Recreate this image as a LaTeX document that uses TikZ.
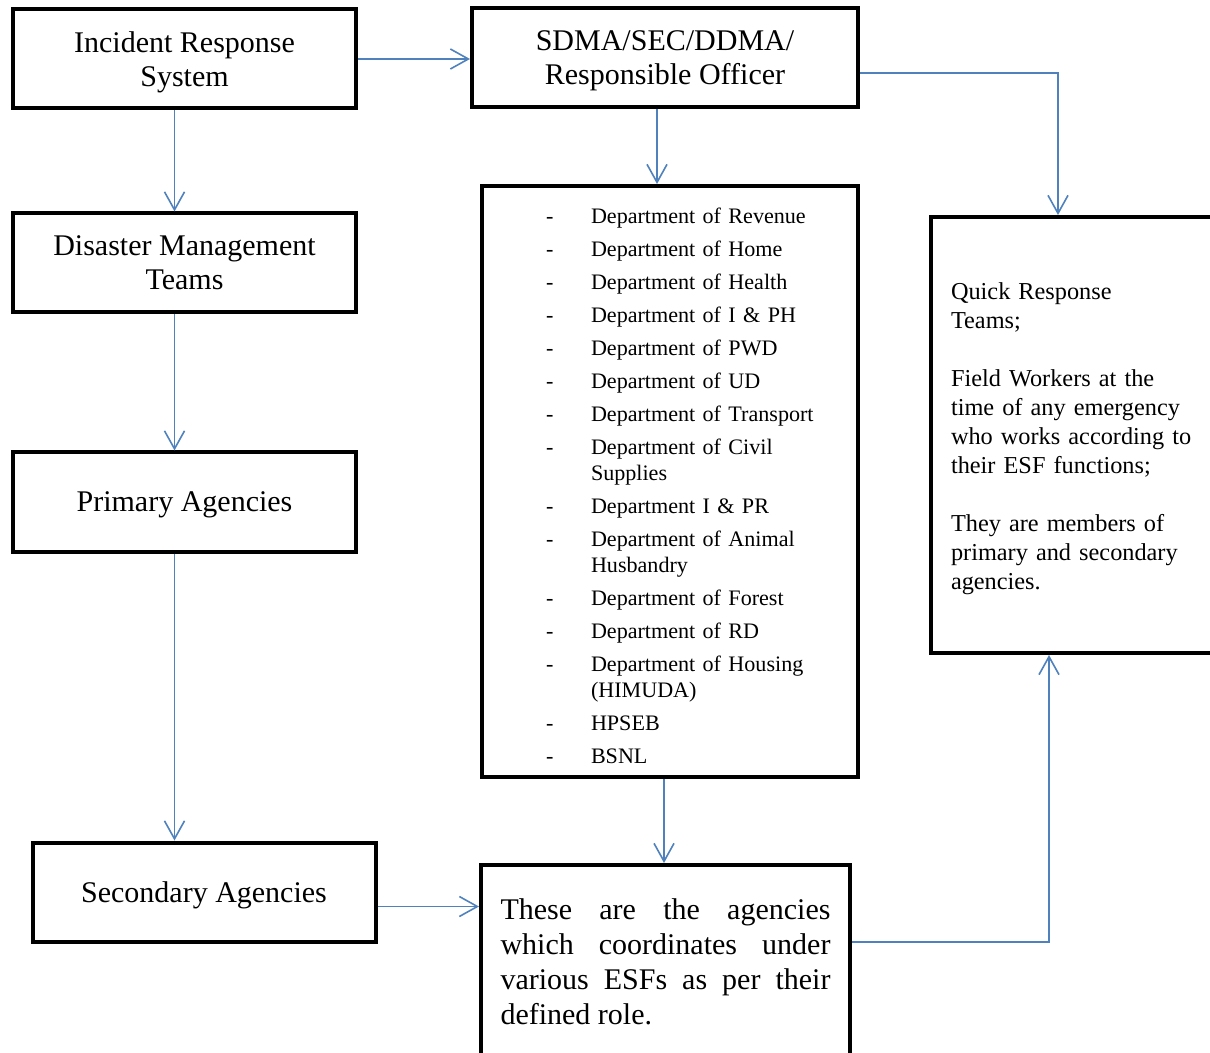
\documentclass[tikz,border=0pt]{standalone}
\usepackage{fontspec}
\setmainfont{Liberation Serif}
\usetikzlibrary{arrows.meta,positioning}
\definecolor{linkblue}{RGB}{79,129,189}
\newcommand{\deptitem}[1]{\noindent\hangindent=54.5pt\hangafter=1\makebox[54.5pt][l]{\hspace{32pt}-}#1\par}

\begin{document}
\begin{tikzpicture}[x=0.5pt, y=-0.5pt]
  %define block styles
  \tikzset{
    block/.style={rectangle, draw=black, line width=2pt, minimum width=171.5pt, minimum height=49.5pt, align=center, text depth=0pt, font=\fontsize{15}{17}\selectfont},
    deptlist/.style={rectangle, draw=black, line width=2pt, minimum width=188pt, minimum height=295.5pt, inner sep=0pt, text width=188pt, font=\fontsize{11.05}{13}\selectfont},
    qrtbox/.style={rectangle, draw=black, line width=2pt, minimum width=143.5pt, minimum height=218pt, inner sep=0pt, text width=123.5pt, align=left, font=\fontsize{12.15}{14.5}\selectfont},
    notebox/.style={rectangle, draw=black, line width=2pt, minimum width=184.5pt, minimum height=96.5pt, text width=165pt, align=justify, font=\fontsize{15}{17.5}\selectfont},
    arrow/.style={draw=linkblue, line width=0.8pt, -{Straight Barb[length=9pt,width=10pt]}},
  }
  \useasboundingbox (0,0) rectangle (1210,1053);
  \clip (0,0) rectangle (1210,1053);
  %define nodes
  \node[block] (irs) at (184.5,59) {Incident Response\\System};
  \node[block, below=50.5pt of irs] (dmt) {Disaster Management\\Teams};
  \node[block, below=68pt of dmt] (prim) {Primary Agencies};
  \node[block, below=143.5pt of prim, xshift=9.75pt] (sec) {Secondary Agencies};
  \node[block, minimum width=193pt] (sdma) at (665,58) {SDMA/SEC/DDMA/\\Responsible Officer};
  \node[deptlist] (depts) at (670,481.5) {\setlength{\parskip}{3.5pt}\rightskip=15pt plus 1fil
    \deptitem{\rule{0pt}{12.4pt}Department of Revenue}
    \deptitem{Department of Home}
    \deptitem{Department of Health}
    \deptitem{Department of I \& PH}
    \deptitem{Department of PWD}
    \deptitem{Department of UD}
    \deptitem{Department of Transport}
    \deptitem{Department of Civil Supplies}
    \deptitem{Department I \& PR}
    \deptitem{Department of Animal Husbandry}
    \deptitem{Department of Forest}
    \deptitem{Department of RD}
    \deptitem{Department of Housing (HIMUDA)}
    \deptitem{HPSEB}
    \deptitem{BSNL}};
  \node[qrtbox] (qrt) at (1074.5,435) {\rule{0pt}{12.3pt}Quick Response\\Teams;\\[14.5pt]Field Workers at the\\time of any emergency\\who works according to\\their ESF functions;\\[14.5pt]They are members of\\primary and secondary\\agencies.};
  \node[notebox] (these) at (665.5,961.5) {These are the agencies which coordinates under various ESFs as per their defined role.};
  %define arrows
  \draw[arrow] (irs.east) -- (irs.east -| sdma.west);
  \draw[arrow] ([xshift=-5pt]irs.south) -- ([xshift=-5pt]irs.south |- dmt.north);
  \draw[arrow] ([xshift=-5pt]dmt.south) -- ([xshift=-5pt]dmt.south |- prim.north);
  \draw[arrow] ([xshift=-5pt]prim.south) -- ([xshift=-5pt]prim.south |- sec.north);
  \draw[arrow] ([xshift=-4pt]sdma.south) -- ([xshift=-4pt]sdma.south |- depts.north);
  \draw[arrow] ([yshift=-7.5pt]sdma.east) -| ([xshift=-8.25pt]qrt.north);
  \draw[arrow] ([xshift=-3pt]depts.south) -- ([xshift=-3pt]depts.south |- these.north);
  \draw[arrow] ([yshift=-7.25pt]sec.east) -- ([yshift=-7.25pt]sec.east -| these.west);
  \draw[arrow] ([yshift=9.75pt]these.east) -| ([xshift=-12.75pt]qrt.south);
\end{tikzpicture}
\end{document}
